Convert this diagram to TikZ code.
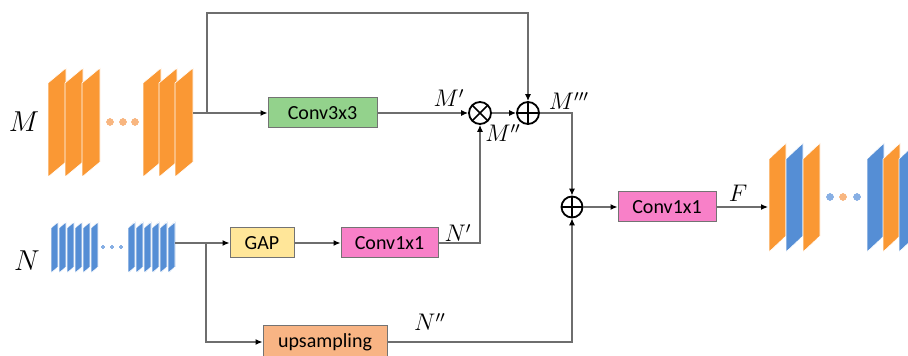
\documentclass[tikz,border=0pt]{standalone}
\usepackage{fontspec}
\setsansfont{Carlito}
\usepackage{xcolor}
\definecolor{fmorange}{RGB}{250,152,52}
\definecolor{fmblue}{RGB}{85,142,213}
\definecolor{dotorange}{RGB}{248,182,128}
\definecolor{dotblue}{RGB}{135,175,228}
\definecolor{boxgreen}{RGB}{147,210,140}
\definecolor{boxyellow}{RGB}{255,230,153}
\definecolor{boxpink}{RGB}{248,128,200}
\definecolor{boxsalmon}{RGB}{248,180,132}
\definecolor{wiregray}{RGB}{110,110,110}
\usetikzlibrary{arrows.meta,positioning,calc}

% one feature map slab: left x, centre y, width, height, skew, colour
\newcommand{\fmslab}[6]{%
  \filldraw[fill=#6, draw=white, line width=0.3pt]
    (#1,{#2-#4/2+#5/2}) -- (#1,{#2+#4/2+#5/2}) --
    ({#1+#3},{#2+#4/2-#5/2}) -- ({#1+#3},{#2-#4/2-#5/2}) -- cycle;}

\begin{document}
\begin{tikzpicture}[x=0.5pt, y=-0.5pt,
    opbox/.style={draw=black!55, line width=0.5pt, minimum height=15pt,
                  inner sep=0pt, font=\sffamily\fontsize{10}{12}\selectfont},
    sumnode/.style={circle, draw=black, line width=0.9pt, minimum size=11pt, inner sep=0pt},
    plusnode/.style={sumnode, path picture={
        \draw[line width=0.8pt] (path picture bounding box.north) -- (path picture bounding box.south)
                                (path picture bounding box.west) -- (path picture bounding box.east);}},
    timesnode/.style={sumnode, path picture={
        \draw[line width=0.8pt] (path picture bounding box.north west) -- (path picture bounding box.south east)
                                (path picture bounding box.north east) -- (path picture bounding box.south west);}},
    wire/.style={draw=wiregray, line width=0.6pt},
    arr/.style={wire, -{Latex[length=3.5pt,width=3pt,color=black]}},
    lbl/.style={font=\fontsize{12}{14}\selectfont},
    biglbl/.style={font=\fontsize{14}{16}\selectfont}]
  \useasboundingbox (0,0) rectangle (908,356);

  % input feature maps M
  \foreach \x in {48,65,82,143,159,175}
    \fmslab{\x}{122.5}{18}{94}{15}{fmorange}
  \foreach \x in {110,123,135}
    \fill[dotorange] (\x,122) circle[radius=3.5];
  \node[biglbl] (mlab) at (24,122) {$M$};

  % input feature maps N
  \foreach \x in {51,59,...,91}
    \fmslab{\x}{247.5}{7}{45}{6}{fmblue}
  \foreach \x in {128,136,...,168}
    \fmslab{\x}{247.5}{7}{45}{6}{fmblue}
  \foreach \x in {103,112,121}
    \fill[dotblue] (\x,247) circle[radius=1.8];
  \node[biglbl] (nlab) at (27,261) {$N$};

  % output feature maps F
  \foreach \x/\c in {769/fmorange,786/fmblue,803/fmorange,867/fmblue,883/fmorange,899/fmblue}
    \fmslab{\x}{197.5}{17}{93}{16}{\c}
  \foreach \x/\c in {830/dotblue,843/dotorange,857/dotblue}
    \fill[\c] (\x,197) circle[radius=3.5];

  % junctions
  \coordinate (mout) at (193,113);
  \coordinate (mbr) at (207,113);
  \coordinate (mtop) at (528,13);
  \coordinate (nout) at (175,243);
  \coordinate (nbr) at (206,243);
  \coordinate (fin) at (768,207);

  % blocks
  \node[opbox, fill=boxgreen, minimum width=54.5pt] (conv3) at (322.5,113) {Conv3x3};
  \node[opbox, fill=boxyellow, minimum width=32pt] (gap) at (262,243) {GAP};
  \node[opbox, fill=boxpink, minimum width=48.5pt] (conv1a) at (389.5,243) {Conv1x1};
  \node[opbox, fill=boxsalmon, minimum width=62pt, minimum height=16pt] (ups) at (325,342) {upsampling};
  \node[opbox, fill=boxpink, minimum width=49pt] (conv1b) at (667,207) {Conv1x1};
  \node[timesnode] (mul) at (480,113) {};
  \node[plusnode] (addA) at (528,113) {};
  \node[plusnode, minimum size=10.5pt] (addB) at (572,207) {};

  % connectors
  \draw[wire] (mout) -- (mbr);
  \draw[arr] (mbr) -- (conv3);
  \draw[arr] (mbr) |- (mtop) -- (addA);
  \draw[arr] (conv3) -- (mul);
  \draw[arr] (mul) -- (addA);
  \draw[arr] (addA) -| (addB);
  \draw[arr] (addB) -- (conv1b);
  \draw[arr] (conv1b) -- (fin);
  \draw[wire] (nout) -- (nbr);
  \draw[arr] (nbr) -- (gap);
  \draw[arr] (gap) -- (conv1a);
  \draw[arr] (conv1a) -| (mul);
  \draw[arr] (nbr) |- (ups);
  \draw[arr] (ups) -| (addB);

  % labels
  \node[lbl] (lmA) at (449,98) {$M'$};
  \node[lbl] (lmB) at (503,133) {$M''$};
  \node[lbl] (lmC) at (569,101) {$M'''$};
  \node[lbl] (lnA) at (458,233) {$N'$};
  \node[lbl] (lnB) at (430,322) {$N''$};
  \node[lbl] (lf) at (738,193) {$F$};
\end{tikzpicture}
\end{document}
